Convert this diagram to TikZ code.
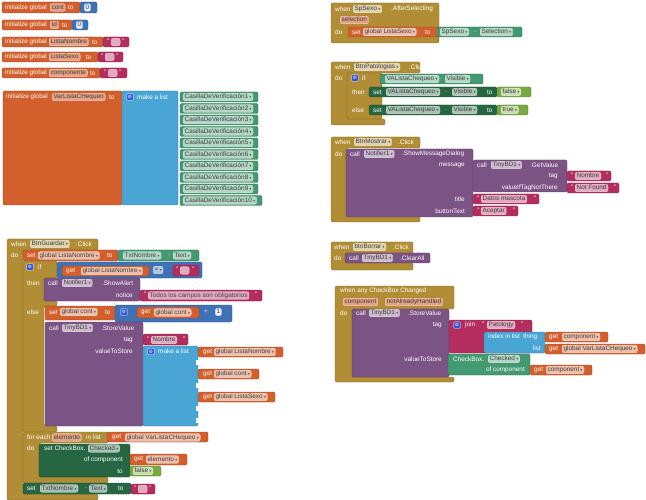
\documentclass[tikz,border=0pt]{standalone}
\usepackage{fontspec}
\setmainfont{Liberation Sans}
\newfontfamily\symf{DejaVu Sans}
\usetikzlibrary{positioning}

\definecolor{varorange}{HTML}{D25F2C}
\definecolor{mathblue}{HTML}{3F71B5}
\definecolor{textmag}{HTML}{B32D5E}
\definecolor{listblue}{HTML}{49A6D4}
\definecolor{ctrlgold}{HTML}{B18E35}
\definecolor{procpurple}{HTML}{7C5385}
\definecolor{setgreen}{HTML}{266643}
\definecolor{getgreen}{HTML}{439970}
\definecolor{logicgreen}{HTML}{77AB41}
\definecolor{gearblue}{HTML}{3355DD}

\newcommand{\drop}{\hspace{1.4pt}{\symf\fontsize{3.6}{4}\selectfont ▾}}
\newcommand{\gearsym}{{\symf\fontsize{4.6}{5}\selectfont ⚙}}

\begin{document}
\begin{tikzpicture}[
  x=1pt, y=-1pt,
  font=\fontsize{6.4}{7.5}\selectfont,
  blk/.style={fill=#1, draw=#1!75!black, line width=0.4pt, rounded corners=1.5pt},
  txt/.style={anchor=west, text=white, inner sep=0pt},
  rtxt/.style={anchor=east, text=white, inner sep=0pt},
  pill/.style={anchor=west, fill=#1!40!white, draw=#1!20!white, line width=0.3pt, rounded corners=2pt,
    text=black!75, inner xsep=1.5pt, inner ysep=0pt, minimum height=7.6pt, text height=4.6pt, text depth=1.2pt},
  npill/.style={pill=varorange, fill=varorange!58!white},
  numpill/.style={pill=mathblue, fill=mathblue!12!white, draw=mathblue!50!white},
  epill/.style={pill=textmag, minimum width=9pt},
  gear/.style={fill=gearblue, draw=white, line width=0.3pt, rounded corners=0.8pt, minimum size=6.4pt, inner sep=0pt, text=white},
]
\useasboundingbox (0,0) rectangle (646,500);

% ================= global variables =================
\draw[blk=varorange] (2,2) rectangle (80,13);
\node[txt] (ig1) at (5,7.5) {initialize global};
\node[npill] (ig1n) at (50,7.5) {cont};
\node[txt] (ig1t) at (68,7.5) {to};
\draw[blk=mathblue] (80,2) rectangle (97,13);
\node[numpill] (ig1v) at (84,7.5) {0};

\draw[blk=varorange] (2,20) rectangle (72,30);
\node[txt] (ig2) at (5,25) {initialize global};
\node[npill] (ig2n) at (50,25) {Id};
\node[txt] (ig2t) at (62,25) {to};
\draw[blk=mathblue] (72,20) rectangle (88,30);
\node[numpill] (ig2v) at (76,25) {0};

\draw[blk=varorange] (2,37) rectangle (103,47);
\node[txt] (ig3) at (5,42) {initialize global};
\node[npill] (ig3n) at (49,42) {ListaNombre};
\node[txt] (ig3t) at (92,42) {to};
\draw[blk=textmag] (103,37) rectangle (129,47);
\node[txt] (ig3q) at (107,41) {"};
\node[epill] (ig3v) at (111,42) {};
\node[txt] (ig3r) at (122,41) {"};

\draw[blk=varorange] (2,52) rectangle (98,62);
\node[txt] (ig4) at (5,57) {initialize global};
\node[npill] (ig4n) at (49,57) {ListaSexo};
\node[txt] (ig4t) at (86,57) {to};
\draw[blk=textmag] (98,52) rectangle (123,62);
\node[txt] (ig4q) at (101,56) {"};
\node[epill] (ig4v) at (105,57) {};
\node[txt] (ig4r) at (116,56) {"};

\draw[blk=varorange] (2,68) rectangle (100,78);
\node[txt] (ig5) at (5,73) {initialize global};
\node[npill] (ig5n) at (49,73) {componente};
\node[txt] (ig5t) at (90,73) {to};
\draw[blk=textmag] (100,68) rectangle (127,78);
\node[txt] (ig5q) at (104,72) {"};
\node[epill] (ig5v) at (108,73) {};
\node[txt] (ig5r) at (119,72) {"};

% list of check boxes
\draw[blk=varorange] (3,91) rectangle (122,205);
\node[txt] (ig6) at (6,97) {initialize global};
\node[npill] (ig6n) at (52,97) {VarListaCHequeo};
\node[txt] (ig6t) at (109,97) {to};
\draw[blk=listblue] (122,91) rectangle (178,205);
\node[gear] (ig6g) at (130,97) {\gearsym};
\node[txt] (ig6l) at (137,97) {make a list};
\foreach \i/\r in {1/258,2/258,3/258,4/258,5/258,6/258,7/258,8/258,9/258,10/262}{
  \draw[blk=getgreen] (180,{92+11.5*(\i-1)}) rectangle (\r,{102+11.5*(\i-1)});
  \node[pill=getgreen] (cv\i) at (183,{97+11.5*(\i-1)}) {CasillaDeVerificación\i\drop};
}

% ================= SpSexo.AfterSelecting =================
\draw[blk=ctrlgold] (331,3) rectangle (439,43);
\node[txt] (w1) at (335,9) {when};
\node[pill=ctrlgold] (w1c) at (353,9) {SpSexo\drop};
\node[txt] (w1e) at (391,9) {.AfterSelecting};
\node[npill] (w1p) at (340,20) {selection};
\node[txt] (w1do) at (335,32) {do};
\draw[blk=varorange] (348,27) rectangle (438,37);
\node[txt] (s1) at (352,32) {set};
\node[pill=varorange] (s1v) at (363,32) {global ListaSexo\drop};
\node[txt] (s1t) at (425,32) {to};
\draw[blk=getgreen] (437,27) rectangle (522,37);
\node[pill=getgreen] (s1c) at (440,32) {SpSexo\drop};
\node[txt] (s1d) at (474,32) {.};
\node[pill=getgreen] (s1p) at (480,32) {Selection\drop};

% ================= BtnPatologias.Click =================
\draw[blk=ctrlgold] (331,62) -- (420,62) -- (420,73) -- (347,73) -- (347,119) -- (385,119)
  -- (385,125) -- (331,125) -- cycle;
\node[txt] (w2) at (335,67) {when};
\node[pill=ctrlgold] (w2c) at (354,67) {BtnPatologias\drop};
\node[txt] (w2e) at (409,67) {.Click};
\node[txt] (w2do) at (335,78) {do};
\draw[blk=ctrlgold] (347,73) rectangle (382,119);
\node[gear] (if1g) at (355,78) {\gearsym};
\node[txt] (if1) at (362,78) {if};
\draw[blk=getgreen] (380,74) rectangle (483,84);
\node[pill=getgreen] (c1a) at (385,79) {VAListaChequeo\drop};
\node[txt] (c1d) at (439,79) {.};
\node[pill=getgreen] (c1b) at (445,79) {Visible\drop};
\node[txt] (then1) at (352,92) {then};
\draw[blk=setgreen] (369,87) rectangle (497,97);
\node[txt] (v1s) at (373,92) {set};
\node[pill=setgreen] (v1a) at (386,92) {VAListaChequeo\drop};
\node[txt] (v1d) at (445,92) {.};
\node[pill=setgreen] (v1b) at (452,92) {Visible\drop};
\node[txt] (v1t) at (487,92) {to};
\draw[blk=logicgreen] (497,87) rectangle (531,97);
\node[pill=logicgreen] (v1v) at (501,92) {false\drop};
\node[txt] (else1) at (352,110) {else};
\draw[blk=setgreen] (369,105) rectangle (497,115);
\node[txt] (v2s) at (373,110) {set};
\node[pill=setgreen] (v2a) at (386,110) {VAListaChequeo\drop};
\node[txt] (v2d) at (445,110) {.};
\node[pill=setgreen] (v2b) at (452,110) {Visible\drop};
\node[txt] (v2t) at (487,110) {to};
\draw[blk=logicgreen] (497,105) rectangle (528,115);
\node[pill=logicgreen] (v2v) at (501,110) {true\drop};

% ================= BtnMostrar.Click =================
\draw[blk=ctrlgold] (331,137) -- (420,137) -- (420,148) -- (346,148) -- (346,216) -- (420,216)
  -- (420,222) -- (331,222) -- cycle;
\node[txt] (w3) at (335,142) {when};
\node[pill=ctrlgold] (w3c) at (354,142) {BtnMostrar\drop};
\node[txt] (w3e) at (398,142) {.Click};
\node[txt] (w3do) at (335,154) {do};
\draw[blk=procpurple] (346,149) rectangle (473,217);
\node[txt] (m1) at (350,154) {call};
\node[pill=procpurple] (m1c) at (364,154) {Notifier1\drop};
\node[txt] (m1e) at (402,154) {.ShowMessageDialog};
\node[rtxt] (m1m) at (465,165) {message};
\draw[blk=procpurple] (473,160) rectangle (567,192);
\node[txt] (gv) at (477,165) {call};
\node[pill=procpurple] (gvc) at (491,165) {TinyBD1\drop};
\node[txt] (gve) at (530,165) {.GetValue};
\node[rtxt] (gvt) at (558,176) {tag};
\draw[blk=textmag] (567,171) rectangle (611,181);
\node[txt] (gvq1) at (571,175) {"};
\node[pill=textmag] (gvs1) at (575,176) {Nombre};
\node[txt] (gvr1) at (606,175) {"};
\node[rtxt] (gvn) at (558,188) {valueIfTagNotThere};
\draw[blk=textmag] (567,183) rectangle (619,193);
\node[txt] (gvq2) at (571,187) {"};
\node[pill=textmag] (gvs2) at (575,188) {Not Found};
\node[txt] (gvr2) at (614,187) {"};
\node[rtxt] (m1t) at (465,199) {title};
\draw[blk=textmag] (473,194) rectangle (539,204);
\node[txt] (m1q1) at (477,198) {"};
\node[pill=textmag] (m1s1) at (481,199) {Datos mascota};
\node[txt] (m1r1) at (534,198) {"};
\node[rtxt] (m1b) at (465,211) {buttonText};
\draw[blk=textmag] (473,206) rectangle (518,216);
\node[txt] (m1q2) at (477,210) {"};
\node[pill=textmag] (m1s2) at (481,211) {Aceptar};
\node[txt] (m1r2) at (513,210) {"};

% ================= btnBorrar.Click =================
\draw[blk=ctrlgold] (331,242) -- (413,242) -- (413,253) -- (345,253) -- (345,263) -- (413,263)
  -- (413,270) -- (331,270) -- cycle;
\node[txt] (w4) at (334,247) {when};
\node[pill=ctrlgold] (w4c) at (353,247) {btnBorrar\drop};
\node[txt] (w4e) at (393,247) {.Click};
\node[txt] (w4do) at (334,258) {do};
\draw[blk=procpurple] (345,253) rectangle (430,263);
\node[txt] (ca) at (349,258) {call};
\node[pill=procpurple] (cac) at (362,258) {TinyBD1\drop};
\node[txt] (cae) at (400,258) {.ClearAll};

% ================= any CheckBox Changed =================
\draw[blk=ctrlgold] (335,286) -- (454,286) -- (454,309) -- (352,309) -- (352,377) -- (454,377)
  -- (454,382) -- (335,382) -- cycle;
\node[txt] (w5) at (340,291) {when any CheckBox Changed};
\node[npill] (w5p1) at (343,302) {component};
\node[npill] (w5p2) at (385,302) {notAlreadyHandled};
\node[txt] (w5do) at (340,313) {do};
\draw[blk=procpurple] (352,309) rectangle (449,377);
\node[txt] (sv2) at (356,313) {call};
\node[pill=procpurple] (sv2c) at (369,313) {TinyBD1\drop};
\node[txt] (sv2e) at (408,313) {.StoreValue};
\node[rtxt] (sv2t) at (442,325) {tag};
\draw[blk=textmag] (449,320) rectangle (532,353);
\node[gear] (jg) at (457,325) {\gearsym};
\node[txt] (jn) at (465,325) {join};
\node[txt] (jq) at (482,324) {"};
\node[pill=textmag] (js) at (487,325) {Patology};
\node[txt] (jr) at (521,324) {"};
\draw[blk=listblue] (484,332) rectangle (545,353);
\node[txt] (ix) at (488,337) {index in list\ \ thing};
\node[rtxt] (ixl) at (541,348) {list};
\draw[blk=varorange] (545,332) rectangle (608,342);
\node[txt] (ixg1) at (549,337) {get};
\node[pill=varorange] (ixg1v) at (562,337) {component\drop};
\draw[blk=varorange] (545,344) rectangle (645,354);
\node[txt] (ixg2) at (549,349) {get};
\node[pill=varorange] (ixg2v) at (562,349) {global VarListaCHequeo\drop};
\node[rtxt] (sv2v) at (442,359) {valueToStore};
\draw[blk=getgreen] (448,354) rectangle (530,375);
\node[txt] (cb) at (453,359) {CheckBox.};
\node[pill=getgreen] (cbp) at (488,359) {Checked\drop};
\node[rtxt] (cbo) at (525,370) {of component};
\draw[blk=varorange] (530,365) rectangle (592,375);
\node[txt] (cbg) at (534,370) {get};
\node[pill=varorange] (cbgv) at (546,370) {component\drop};

% ================= BtnGuardar.Click =================
\draw[blk=ctrlgold] (7,239) -- (98,239) -- (98,250) -- (23,250) -- (23,494) -- (98,494)
  -- (98,500) -- (7,500) -- cycle;
\node[txt] (w6) at (11,244) {when};
\node[pill=ctrlgold] (w6c) at (30,244) {BtnGuardar\drop};
\node[txt] (w6e) at (76,244) {.Click};
\node[txt] (w6do) at (11,255) {do};
% set ListaNombre
\draw[blk=varorange] (23,250) rectangle (118,261);
\node[txt] (g1) at (27,255.5) {set};
\node[pill=varorange] (g1v) at (38,255.5) {global ListaNombre\drop};
\node[txt] (g1t) at (107,255.5) {to};
\draw[blk=getgreen] (118,250) rectangle (199,261);
\node[pill=getgreen] (g1a) at (123,255.5) {TxtNombre\drop};
\node[txt] (g1d) at (168,255.5) {.};
\node[pill=getgreen] (g1b) at (173,255.5) {Text\drop};
% if / then / else
\draw[blk=ctrlgold] (23,261) -- (57,261) -- (57,278) -- (44,278) -- (44,301) -- (57,301) -- (57,306)
  -- (44,306) -- (44,426) -- (57,426) -- (57,432) -- (23,432) -- cycle;
\node[gear] (if2g) at (30,267) {\gearsym};
\node[txt] (if2) at (38,267) {if};
\draw[blk=mathblue] (57,262) rectangle (202,278);
\draw[blk=varorange] (62,266) rectangle (149,276);
\node[txt] (eqg) at (66,271) {get};
\node[pill=varorange] (eqgv) at (81,271) {global ListaNombre\drop};
\node[pill=mathblue] (eqo) at (153,270) {=\drop};
\draw[blk=textmag] (173,265) rectangle (199,276);
\node[txt] (eqq) at (176,269) {"};
\node[epill] (eqs) at (180,270.5) {};
\node[txt] (eqr) at (192,269) {"};
\node[txt] (then2) at (27,283) {then};
\draw[blk=procpurple] (44,278) rectangle (140,301);
\node[txt] (sa) at (48,283) {call};
\node[pill=procpurple] (sac) at (62,283) {Notifier1\drop};
\node[txt] (sae) at (102,283) {.ShowAlert};
\node[rtxt] (san) at (133,295) {notice};
\draw[blk=textmag] (140,290) rectangle (262,301);
\node[txt] (saq) at (144,294.5) {"};
\node[pill=textmag] (sas) at (148,295.5) {Todos los campos son obligatorios};
\node[txt] (sar) at (255,294.5) {"};
\node[txt] (else2) at (27,312) {else};
\draw[blk=varorange] (45,306) rectangle (115,320);
\node[txt] (sc) at (49,312) {set};
\node[pill=varorange] (scv) at (60,312) {global cont\drop};
\node[txt] (sct) at (105,312) {to};
\draw[blk=mathblue] (115,305) rectangle (232,322);
\node[gear] (pg) at (124,312) {\gearsym};
\draw[blk=varorange] (137,307) rectangle (199,318);
\node[txt] (pgg) at (141,312.5) {get};
\node[pill=varorange] (pggv) at (154,312.5) {global cont\drop};
\node[txt] (pl) at (204,312) {+};
\node[numpill] (pl1) at (215,312) {1};
% StoreValue
\draw[blk=procpurple] (45,322) rectangle (143,426);
\node[txt] (sv1) at (49,328) {call};
\node[pill=procpurple] (sv1c) at (62,328) {TinyBD1\drop};
\node[txt] (sv1e) at (101,328) {.StoreValue};
\node[rtxt] (sv1t) at (133,340) {tag};
\draw[blk=textmag] (143,334) rectangle (188,345);
\node[txt] (sv1q) at (147,339) {"};
\node[pill=textmag] (sv1s) at (151,340) {Nombre};
\node[txt] (sv1r) at (183,339) {"};
\node[rtxt] (sv1v) at (133,351) {valueToStore};
\draw[blk=listblue] (143,346) rectangle (198,426);
\node[gear] (mlg) at (151,351.5) {\gearsym};
\node[txt] (mll) at (158,351.5) {make a list};
\draw[blk=varorange] (198,347) rectangle (283,357);
\node[txt] (ml1) at (203,352) {get};
\node[pill=varorange] (ml1v) at (214,352) {global ListaNombre\drop};
\draw[blk=varorange] (198,369) rectangle (259,379);
\node[txt] (ml2) at (203,374) {get};
\node[pill=varorange] (ml2v) at (214,374) {global cont\drop};
\draw[blk=varorange] (198,392) rectangle (275,402);
\node[txt] (ml3) at (203,397) {get};
\node[pill=varorange] (ml3v) at (214,397) {global ListaSexo\drop};
\fill[white] (195.5,360) rectangle (198.5,365);
\fill[white] (195.5,383) rectangle (198.5,388);
\fill[white] (195.5,406) rectangle (198.5,411);
\fill[white] (195.5,418) rectangle (198.5,423);
% for each
\draw[blk=ctrlgold] (23,432) -- (108,432) -- (108,443) -- (39,443) -- (39,477) -- (108,477)
  -- (108,483) -- (23,483) -- cycle;
\node[txt] (fe) at (27,437.5) {for each};
\node[npill] (fev) at (52,437.5) {elemento};
\node[txt] (fel) at (86,437.5) {in list};
\draw[blk=varorange] (107,432) rectangle (208,442);
\node[txt] (feg) at (112,437.5) {get};
\node[pill=varorange] (fegv) at (125,437.5) {global VarListaCHequeo\drop};
\node[txt] (fedo) at (27,448.5) {do};
\draw[blk=setgreen] (39,444) rectangle (130,477);
\node[txt] (sk) at (44,448.5) {set CheckBox.};
\node[pill=setgreen] (skp) at (88,448.5) {Checked\drop};
\node[rtxt] (sko) at (123,459.5) {of component};
\draw[blk=varorange] (130,454) rectangle (187,465);
\node[txt] (skg) at (134,459.5) {get};
\node[pill=varorange] (skgv) at (146,459.5) {elemento\drop};
\node[rtxt] (skt) at (123,471) {to};
\draw[blk=logicgreen] (130,466) rectangle (161,476);
\node[pill=logicgreen] (skf) at (133,471) {false\drop};
% clear text box
\draw[blk=setgreen] (23,483) rectangle (131,494);
\node[txt] (st) at (27,488.5) {set};
\node[pill=setgreen] (sta) at (40,488.5) {TxtNombre\drop};
\node[txt] (std) at (85,488.5) {.};
\node[pill=setgreen] (stb) at (89,488.5) {Text\drop};
\node[txt] (stt) at (118,488.5) {to};
\draw[blk=textmag] (131,484) rectangle (155,494);
\node[txt] (stq) at (134,488) {"};
\node[epill] (sts) at (138,489) {};
\node[txt] (str) at (149,488) {"};

\end{tikzpicture}
\end{document}
